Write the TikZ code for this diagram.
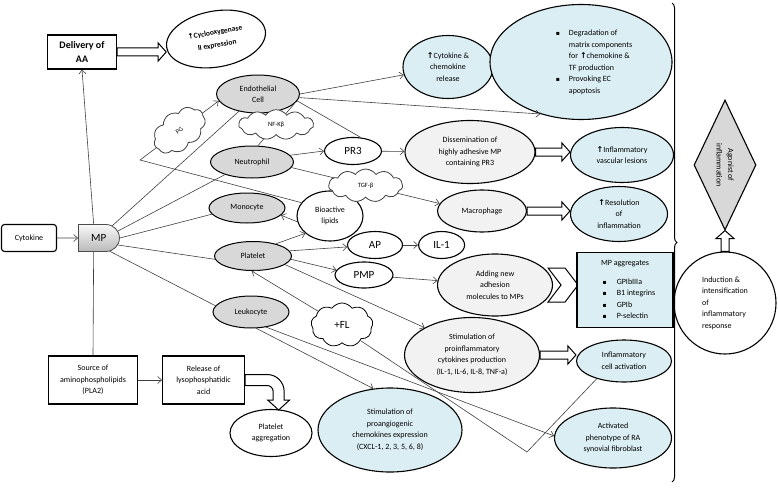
\documentclass[tikz,border=0pt]{standalone}
\usepackage{fontspec}
\setmainfont{Carlito}
\newfontfamily\symfont{DejaVu Sans}
\usetikzlibrary{shapes.geometric, shapes.symbols, shapes.misc, arrows.meta, positioning, calc, backgrounds, decorations.pathreplacing}

\definecolor{cellgray}{RGB}{216,216,216}
\definecolor{paleblue}{RGB}{219,238,243}
\definecolor{palegray}{RGB}{242,242,242}
\definecolor{linegray}{RGB}{64,64,64}

\newcommand{\uparr}{{\symfont\bfseries ↑}}
\newcommand{\sqbullet}{{\symfont\fontsize{6}{6}\selectfont ▪}}
\newcommand{\hollowarrow}[2]{%
  \coordinate (ha) at ($(#2)!8pt!(#1)$);
  \draw[blockline] ($(#1)!4pt!90:(#2)$) -- ($(ha)!4pt!90:(#2)$) -- ($(ha)!9pt!90:(#2)$)
    -- (#2) -- ($(ha)!9pt!-90:(#2)$) -- ($(ha)!4pt!-90:(#2)$) -- ($(#1)!4pt!-90:(#2)$) -- cycle;}

\begin{document}
\begin{tikzpicture}[x=1pt, y=-1pt, font=\fontsize{8}{11.5}\selectfont,
  >={Straight Barb[length=4pt,width=7pt]},
  cell node/.style={ellipse, draw, line width=1pt, fill=cellgray, minimum width=80pt, minimum height=31pt, inner sep=0pt, align=center},
  blue node/.style={ellipse, draw, line width=1.1pt, fill=paleblue, inner sep=0pt, align=center},
  pale node/.style={ellipse, draw, line width=1.1pt, fill=palegray, inner sep=0pt, align=center},
  plain node/.style={ellipse, draw, line width=1.1pt, fill=white, inner sep=0pt, align=center},
  small node/.style={plain node, font=\fontsize{11}{13}\selectfont, minimum height=27pt},
  box node/.style={rectangle, draw, line width=1.1pt, fill=white, align=center},
  cloud node/.style={cloud, cloud ignores aspect, draw, line width=0.8pt, fill=white, cloud puffs=11, cloud puff arc=110, inner sep=0pt, font=\fontsize{6.5}{7}\selectfont},
  conn/.style={draw=linegray, line width=0.6pt},
  blockline/.style={draw=black, line width=1pt, fill=white}]
\useasboundingbox (0,0) rectangle (778,487);

% left column
\node[box node, rounded corners=3pt, minimum width=55pt, minimum height=27pt] (cyt) at (29,238) {Cytokine};
\node[rounded rectangle, rounded rectangle west arc=none, draw=black!70, line width=0.8pt, top color=gray!5, bottom color=gray!55, minimum width=41pt, minimum height=27pt, inner sep=0pt, font=\fontsize{11}{13}\selectfont] (mp) [right=21pt of cyt] {MP};
\node[box node, minimum width=69pt, minimum height=34pt, font=\fontsize{10}{14}\selectfont\bfseries] (dl) at (82,52) {Delivery of\\AA};
\node[plain node, rotate=10, minimum width=100pt, minimum height=56pt, font=\fontsize{7.5}{13}\selectfont\bfseries] (cox) at (216,39) {\uparr Cyclooxygenase\\II expression};
\node[box node, minimum width=89pt, minimum height=48pt] (src) at (93,380) {Source of\\aminophospholipids\\(PLA2)};
\node[box node, minimum width=82pt, minimum height=48pt] (rel) [right=24pt of src] {Release of\\lysophosphatidic\\acid};
\node[plain node, minimum width=82pt, minimum height=47pt] (pagg) at (271,433) {Platelet\\aggregation};

% cells
\node[cell node, minimum width=83pt, minimum height=38pt] (endo) at (258,94) {Endothelial\\Cell};
\node[cell node, minimum width=83pt, minimum height=32pt] (neut) at (252,162) {Neutrophil};
\node[cell node, minimum width=76pt, minimum height=30pt] (mono) at (247,208) {Monocyte};
\node[cell node, minimum width=77pt, minimum height=29pt] (plat) at (253,256) {Platelet};
\node[cell node, minimum width=76pt, minimum height=32pt] (leuk) at (251,312) {Leukocyte};

% middle
\node[small node, minimum width=57pt] (pr3) at (353,151) {PR3};
\node[plain node, minimum width=66pt, minimum height=50pt] (bio) at (330,216) {Bioactive\\lipids};
\node[small node, minimum width=55pt] (ap) at (375,245) {AP};
\node[small node, minimum width=46pt] (il1) [right=15pt of ap] {IL-1};
\node[small node, minimum width=58pt, minimum height=26pt] (pmp) at (364,275) {PMP};
\node[cloud node, cloud puffs=9, minimum width=62pt, minimum height=44pt, font=\fontsize{11}{13}\selectfont] (fl) at (342,325) {+FL};

% right side
\node[blue node, minimum width=90pt, minimum height=63pt] (cytrel) at (448,67) {\uparr Cytokine \&\\chemokine\\release};
\node[blue node, minimum width=182pt, minimum height=115pt] (deg) at (581,62) {%
  \begin{tabular}{@{\hspace{26pt}}c@{\hspace{9pt}}l@{}}
  \sqbullet & Degradation of\\
   & matrix components\\
   & for \uparr chemokine \&\\
   & TF production\\
  \sqbullet & Provoking EC\\
   & apoptosis
  \end{tabular}};
\node[pale node, minimum width=130pt, minimum height=63pt] (diss) at (470,152) {Dissemination of\\highly adhesive MP\\containing PR3};
\node[blue node, minimum width=103pt, minimum height=55pt] (ivl) at (622,155) {\uparr Inflammatory\\vascular lesions};
\node[pale node, minimum width=89pt, minimum height=42pt] (mac) at (482,211) {Macrophage};
\node[blue node, minimum width=97pt, minimum height=55pt] (res) at (619,214) {\uparr Resolution\\of\\inflammation};
\node[pale node, minimum width=115pt, minimum height=62pt] (add) at (495,285) {Adding new\\adhesion\\molecules to MPs};
\node[rectangle, draw, line width=1.6pt, fill=paleblue, minimum width=96pt, minimum height=75pt, inner sep=0pt] (agg) at (625,290) {%
  \begin{tabular}{@{\hspace{8pt}}c@{\hspace{10pt}}l@{}}
  \multicolumn{2}{c}{MP aggregates}\\[7pt]
  \sqbullet & GPIbIIIa\\
  \sqbullet & B1 integrins\\
  \sqbullet & GPIb\\
  \sqbullet & P-selectin
  \end{tabular}};
\node[pale node, minimum width=135pt, minimum height=75pt] (spi) at (472,355) {Stimulation of\\proinflammatory\\cytokines production\\(IL-1, IL-6, IL-8, TNF-a)};
\node[blue node, minimum width=95pt, minimum height=42pt] (ica) at (624,361) {Inflammatory\\cell activation};
\node[blue node, minimum width=144pt, minimum height=84pt] (spa) at (390,430) {Stimulation of\\proangiogenic\\chemokines expression\\(CXCL-1, 2, 3, 5, 6, 8)};
\node[blue node, minimum width=117pt, minimum height=60pt] (afib) at (613,438) {Activated\\phenotype of RA\\synovial fibroblast};
\node[diamond, draw, line width=1.1pt, fill=cellgray, aspect=2.1, minimum width=130pt, minimum height=62pt, inner sep=0pt, rotate=-90, align=center] (agon) at (725,165) {Agonist of\\inflammation};
\node[circle, draw, line width=1.1pt, minimum size=102pt, inner sep=0pt, align=left] (ind) at (725,303) {Induction \&\\intensification\\of\\inflammatory\\response};

% bracket
\draw[line width=1pt, decorate, decoration={brace, amplitude=5pt}] (672,3) -- (672,482);

% connectors
\foreach \s/\t in {cyt/mp, mp.110/dl.south, src/rel, endo.east/cytrel.190, endo.-5/deg.232, neut.10/pr3.west, pr3/diss, bio.190/mono.-12, plat.28/bio.215, plat.8/ap, ap/il1, plat.-5/pmp.170, pmp/add, plat.-15/spi.150, fl.150/plat.-95, leuk.-72/spa.112, leuk.-45/afib.178}
  {\draw[conn,->] (\s) -- (\t);}
\foreach \s/\t in {mp.-110/src.north, mp/endo, mp.20/neut.205, mp.east/mono.190, mp.-20/plat.185, mp.-50/leuk.170, endo.-10/pr3.60}
  {\draw[conn] (\s) -- (\t);}

\coordinate (bend) at (140,160);
\draw[conn,->] (bio.155) -- (bend) -- node[cloud node, sloped, cloud puffs=9, minimum width=58pt, minimum height=38pt] {PG} (endo.190);
\draw[conn] (neut.70) -- node[cloud node, minimum width=75pt, minimum height=30pt] {NF-Kβ} (endo.-15);
\draw[conn,->] (neut.-8) -- node[cloud node, minimum width=74pt, minimum height=33pt] {TGF-β} (mac.170);
\coordinate (kink) at (527,452);
\draw[conn] (fl.-40) -- (kink) -- (ica.213);

% block arrows
\coordinate (dl-tip) at (dl.east -| cox.west);
\coordinate (diss-tip) at (diss.east -| ivl.west);
\coordinate (mac-tip) at (mac.east -| res.west);
\coordinate (spi-tip) at (spi.east -| ica.west);
\hollowarrow{dl.east}{dl-tip}
\hollowarrow{diss.east}{diss-tip}
\hollowarrow{mac.east}{mac-tip}
\hollowarrow{spi.east}{spi-tip}
\hollowarrow{ind.north}{agon.east}
\draw[blockline] ($(rel.east)+(0,-5.5)$) -- ++(22,0) arc[start angle=270, end angle=360, radius=17]
  -- ++(0,8.5) -- ++(5.5,0) -- ++(-11,10) -- ++(-11,-10) -- ++(5.5,0) -- ++(0,-8.5)
  arc[start angle=0, end angle=-90, radius=6] -- ++(-22,0) -- cycle;
\begin{pgfonlayer}{background}
\draw[blockline] ($(add.east)+(-5,-17)$) -- ++(17,0) -- ++(13,17) -- ++(-13,17) -- ++(-17,0) -- ++(13,-17) -- cycle;
\end{pgfonlayer}
\end{tikzpicture}
\end{document}
